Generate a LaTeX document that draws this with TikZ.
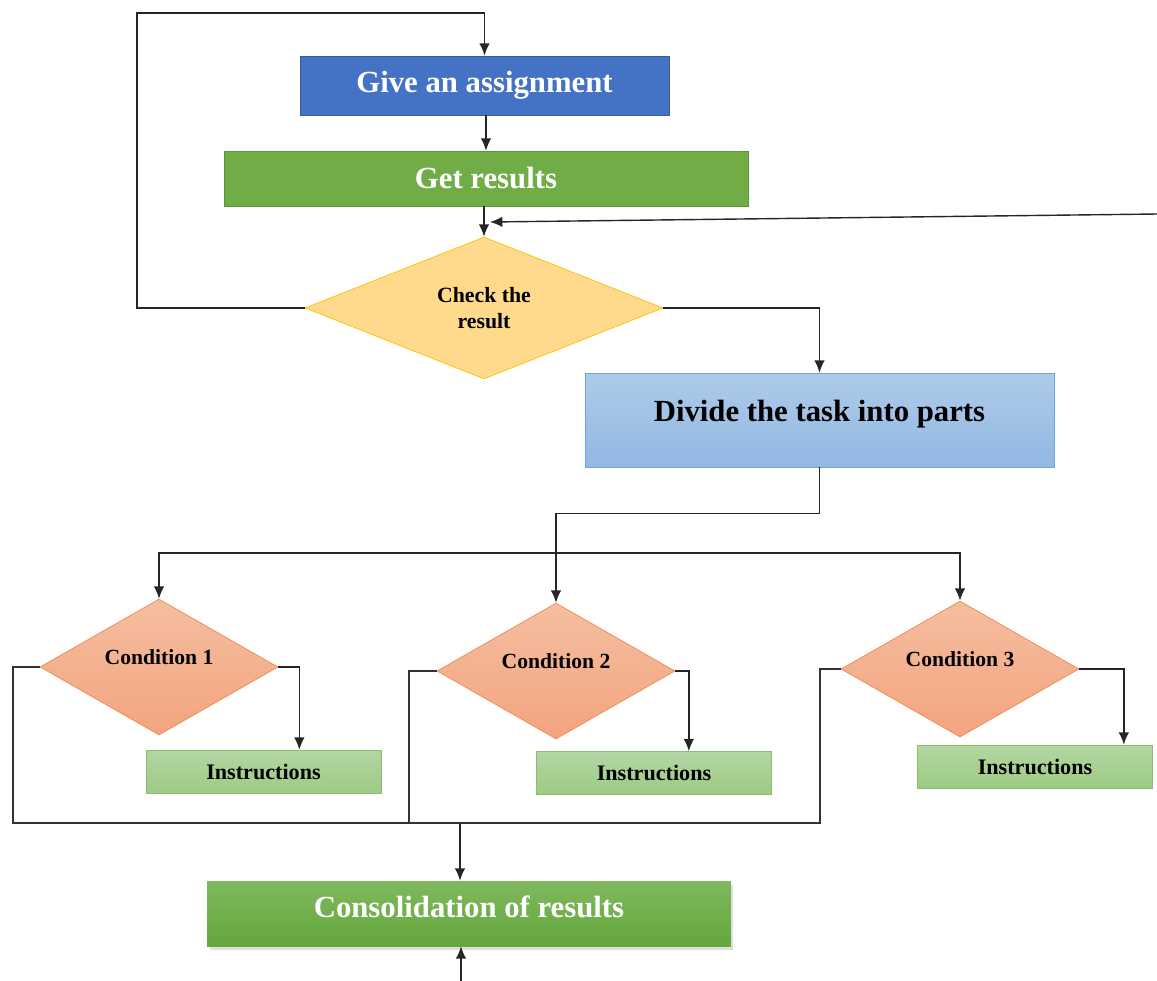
\documentclass[tikz,border=0pt]{standalone}
\usepackage{fontspec}
\setmainfont{Liberation Serif}
\usepackage{tikz}
\usetikzlibrary{shapes, arrows, arrows.meta, shadows}
\definecolor{assignblue}{HTML}{4472C4}
\definecolor{resultgreen}{HTML}{70AD47}
\definecolor{checkfill}{HTML}{FFD98C}
\definecolor{checkedge}{HTML}{FFC000}
\definecolor{dividetop}{HTML}{AECBEA}
\definecolor{dividebot}{HTML}{92B8E2}
\definecolor{divideedge}{HTML}{6FA3DA}
\definecolor{condtop}{HTML}{F5BEA1}
\definecolor{condbot}{HTML}{F3A47E}
\definecolor{condedge}{HTML}{EF8A4E}
\definecolor{instrtop}{HTML}{B4D6A4}
\definecolor{instrbot}{HTML}{9CCB82}
\definecolor{consoltop}{HTML}{7FB95C}
\definecolor{consolbot}{HTML}{64A73D}
\tikzset{
  every decision/.style={
    diamond,
    aspect=2.5,
    inner sep=0pt,
    align=center
  },
}
\tikzstyle{block} = [rectangle, inner sep=0pt, align=center, font=\bfseries\fontsize{17.5}{20}\selectfont]
\tikzstyle{cond} = [every decision, draw=condedge, top color=condtop, bottom color=condbot, minimum width=4.76cm, minimum height=2.72cm, text height=0.3cm, text depth=0.42cm, font=\bfseries\fontsize{12.3}{14}\selectfont]
\tikzstyle{instr} = [rectangle, draw=resultgreen!80, top color=instrtop, bottom color=instrbot, minimum width=4.7cm, minimum height=0.86cm, inner sep=0pt, font=\bfseries\fontsize{12.6}{14}\selectfont]
\tikzstyle{line} = [draw, thick, black!80]
\tikzstyle{arrow} = [thick, -{Latex[length=7pt, width=6pt]}, black!85]

\begin{document}
\begin{tikzpicture}[x=0.02cm, y=-0.02cm, node distance=1.86cm]
        \useasboundingbox (0,0) rectangle (1157,981);
        % blocks
        \node [block, fill=assignblue, draw=assignblue!80!black, text=white, minimum width=7.38cm, minimum height=1.18cm] (give) at (484.5,85.5) {Give an assignment};
        \node [block, below of=give, fill=resultgreen, draw=resultgreen!85!black, text=white, minimum width=10.48cm, minimum height=1.1cm, xshift=0.03cm] (get) {Get results};
        \node [every decision, below of=get, yshift=-0.73cm, xshift=-0.04cm, draw=checkedge, fill=checkfill, minimum width=7.16cm, minimum height=2.84cm, font=\bfseries\fontsize{12.4}{14.7}\selectfont] (check) {Check the\\result};
        \node [block, draw=divideedge, top color=dividetop, bottom color=dividebot, minimum width=9.38cm, minimum height=1.88cm, text height=0.42cm, text depth=0.37cm] (divide) at (819.5,420) {Divide the task into parts};

        \node [cond] (cond1) at (159,667) {Condition 1};
        \node [cond] (cond2) at (556,671) {Condition 2};
        \node [cond] (cond3) at (960,669) {Condition 3};

        \node [instr] (instr1) at (263.5,771.5) {Instructions};
        \node [instr] (instr2) at (654,773) {Instructions};
        \node [instr] (instr3) at (1035,766.5) {Instructions};

        \node [block, top color=consoltop, bottom color=consolbot, text=white, minimum width=10.48cm, minimum height=1.3cm, text height=0.43cm, text depth=0.26cm, drop shadow={opacity=0.25, shadow xshift=0.05cm, shadow yshift=-0.08cm}] (consol) at (469,913.5) {Consolidation of results};

        \coordinate (retry) at (1157,214);
        \coordinate (rejoin) at (490,222);
        \coordinate (fork) at (555,553);
        \coordinate (bus) at (460,823);
        \coordinate (feed) at (461,981);

        % arrows
        \draw [arrow] (check.west) -| (137,13) -| (give.north);
        \draw [arrow] (give.south -| get.north) -- (get.north);
        \draw [arrow] (get.south -| check.north) -- (check.north);
        \draw [arrow] (retry) -- (rejoin);
        \draw [arrow] (check.east) -| (divide.north);
        \draw [arrow] (divide.south) -- ++(0,46) -| (cond2.north);
        \draw [arrow] (fork) -| (cond1.north);
        \draw [arrow] (fork) -| (cond3.north);

        \draw [arrow] (cond1.east) -| ([xshift=-1.64cm]instr1.north east);
        \draw [arrow] (cond2.east) -| ([xshift=-1.66cm]instr2.north east);
        \draw [arrow] (cond3.east) -| ([xshift=-0.58cm]instr3.north east);

        \draw [line] (cond1.west) -| (13,823) -- (820,823) |- (cond3.west);
        \draw [line] (cond2.west) -| (409,823);
        \draw [arrow] (bus) -- (bus |- consol.north);
        \draw [arrow] (feed) -- (feed |- consol.south);
    \end{tikzpicture}
\end{document}
